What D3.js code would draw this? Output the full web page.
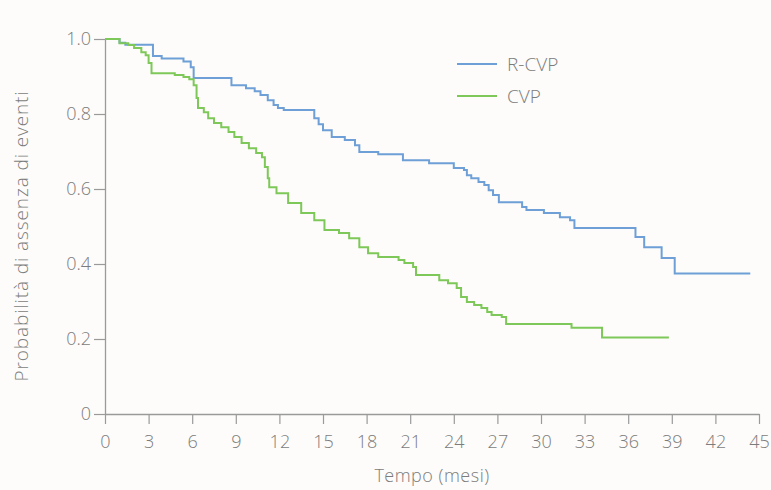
<!DOCTYPE html>
<html>
<head>
<meta charset="utf-8">
<script src="https://cdn.jsdelivr.net/npm/d3@7"></script>
<style>
  body { margin: 0; background: #fdfcfa; }
  svg { display: block; }
</style>
</head>
<body>
<div id="chart"></div>
<script>
// Kaplan-Meier steps: time (months) where the curve drops, and the new value
const rcvpTime = [0, 1.0, 1.4, 3.3, 3.9, 5.4, 5.9, 6.1, 8.7, 9.7, 10.3, 10.7, 11.2, 11.6, 11.9, 12.3,
  14.4, 14.7, 15.0, 15.6, 16.5, 17.2, 17.5, 18.8, 20.5, 22.3, 24.0, 24.7, 24.9, 25.2, 25.7, 26.1,
  26.4, 26.7, 27.1, 28.7, 29.0, 30.2, 31.3, 32.0, 32.3, 36.5, 37.1, 38.3, 39.2, 44.4];
const rcvpSurv = [1.0, 0.99, 0.985, 0.955, 0.948, 0.94, 0.925, 0.896, 0.877, 0.869, 0.861, 0.851, 0.837, 0.824, 0.816, 0.811,
  0.789, 0.773, 0.757, 0.739, 0.731, 0.717, 0.699, 0.693, 0.677, 0.669, 0.656, 0.651, 0.637, 0.629, 0.619, 0.611,
  0.597, 0.584, 0.565, 0.552, 0.544, 0.536, 0.525, 0.517, 0.496, 0.472, 0.445, 0.416, 0.375, 0.375];

const cvpTime = [0, 1.0, 1.6, 2.0, 2.5, 2.8, 3.0, 3.2, 4.8, 5.4, 5.8, 6.1, 6.3, 6.4, 6.8, 7.1, 7.5, 8.0,
  8.5, 8.9, 9.4, 9.9, 10.4, 10.8, 11.0, 11.2, 11.3, 11.8, 12.6, 13.5, 14.4, 15.1, 16.1, 16.8, 17.5,
  18.1, 18.8, 20.2, 20.6, 21.2, 21.4, 23.0, 23.6, 24.2, 24.5, 24.9, 25.4, 25.9, 26.3, 26.6, 27.3,
  27.6, 32.1, 34.2, 38.8];
const cvpSurv = [1.0, 0.989, 0.984, 0.976, 0.965, 0.957, 0.936, 0.909, 0.904, 0.899, 0.893, 0.877, 0.843, 0.816, 0.805, 0.789, 0.776, 0.765,
  0.752, 0.739, 0.723, 0.709, 0.696, 0.685, 0.659, 0.629, 0.605, 0.589, 0.563, 0.536, 0.517, 0.491, 0.483, 0.469, 0.445,
  0.429, 0.419, 0.411, 0.403, 0.392, 0.371, 0.357, 0.349, 0.336, 0.312, 0.299, 0.291, 0.283, 0.272, 0.264, 0.259,
  0.24, 0.23, 0.204, 0.204];

const seriesNames = ["R-CVP", "CVP"];
const seriesColors = ["#6e9fd6", "#7dc858"];

const xTicks = [0, 3, 6, 9, 12, 15, 18, 21, 24, 27, 30, 33, 36, 39, 42, 45];
const yTicks = [0, 0.2, 0.4, 0.6, 0.8, 1.0];
const yTickLabels = ["0", "0.2", "0.4", "0.6", "0.8", "1.0"];

const width = 771, height = 490;
const font = "'Open Sans', 'Noto Sans', sans-serif";
const axisColor = "#9a9a9a";
const textColor = "#7c7c7c";

const svg = d3.select("#chart").append("svg")
  .attr("width", width)
  .attr("height", height);

const x = d3.scaleLinear().domain([0, 45]).range([105, 759]);
const y = d3.scaleLinear().domain([0, 1]).range([414, 39]);

// x axis
const xAxis = svg.append("g")
  .attr("transform", `translate(0,${y(0)})`)
  .call(d3.axisBottom(x).tickValues(xTicks).tickSize(10).tickPadding(11).tickSizeOuter(0));

// y axis
const yAxis = svg.append("g")
  .attr("transform", `translate(${x(0)},0)`)
  .call(d3.axisLeft(y).tickValues(yTicks).tickFormat((d, i) => yTickLabels[i]).tickSize(11).tickPadding(3).tickSizeOuter(0));

[xAxis, yAxis].forEach(g => {
  g.select(".domain").attr("stroke", axisColor).attr("stroke-width", 1.3);
  g.selectAll(".tick line").attr("stroke", axisColor).attr("stroke-width", 1.2);
  g.selectAll(".tick text")
    .attr("fill", textColor)
    .style("font-family", font)
    .style("font-weight", 300)
    .style("font-size", "18px");
});

// axis titles
svg.append("text")
  .attr("x", (x(0) + x(45)) / 2)
  .attr("y", 482)
  .attr("text-anchor", "middle")
  .attr("fill", textColor)
  .style("font-family", font)
  .style("font-weight", 300)
  .style("font-size", "18px")
  .style("letter-spacing", "0.5px")
  .text("Tempo (mesi)");

svg.append("text")
  .attr("transform", "translate(28,236) rotate(-90)")
  .attr("text-anchor", "middle")
  .attr("fill", textColor)
  .style("font-family", font)
  .style("font-weight", 300)
  .style("font-size", "19px")
  .style("letter-spacing", "0.9px")
  .text("Probabilità di assenza di eventi");

// survival curves
const line = d3.line()
  .x(d => x(d[0]))
  .y(d => y(d[1]))
  .curve(d3.curveStepAfter);

const series = [
  d3.zip(rcvpTime, rcvpSurv),
  d3.zip(cvpTime, cvpSurv),
];

svg.selectAll("path.curve")
  .data(series)
  .enter()
  .append("path")
  .attr("class", "curve")
  .attr("d", line)
  .attr("fill", "none")
  .attr("stroke", (d, i) => seriesColors[i])
  .attr("stroke-width", 2);

// legend
const legend = svg.append("g").attr("transform", "translate(457,64)");
seriesNames.forEach((name, i) => {
  const row = legend.append("g").attr("transform", `translate(0,${i * 32})`);
  row.append("line")
    .attr("x1", 0).attr("x2", 40)
    .attr("stroke", seriesColors[i])
    .attr("stroke-width", 2);
  row.append("text")
    .attr("x", 50)
    .attr("dy", "0.35em")
    .attr("fill", textColor)
    .style("font-family", font)
    .style("font-weight", 300)
    .style("font-size", "19px")
    .text(name);
});
</script>
</body>
</html>
